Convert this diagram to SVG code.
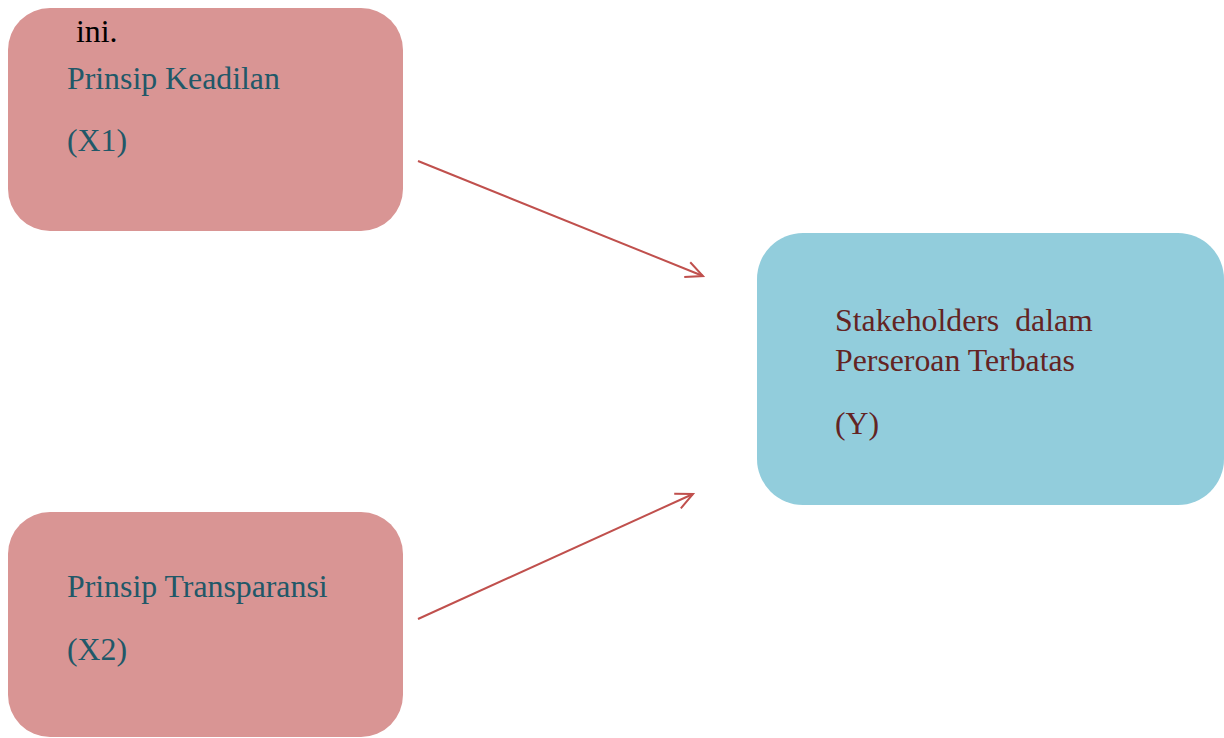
<svg xmlns="http://www.w3.org/2000/svg" width="1224" height="738" viewBox="0 0 1224 738">
<style>
.pink{fill:#D99594}
.blue{fill:#92CDDC}
.t{font-family:"Liberation Serif","Times New Roman",serif;font-size:31.8px}
.teal{fill:#215868}
.dred{fill:#632423}
.conn{stroke:#C0504D;stroke-width:2;fill:none}
</style>
<defs>
<marker id="ah" markerUnits="userSpaceOnUse" markerWidth="30" markerHeight="30" refX="20" refY="10" orient="auto">
<path d="M3,2 L20,10 L3,18" fill="none" stroke="#C0504D" stroke-width="2"/>
</marker>
</defs>
<rect width="1224" height="738" fill="#ffffff"/>
<g id="node-x1">
<rect class="pink" x="8" y="8" width="395" height="223" rx="42" ry="42"/>
<text class="t" x="76" y="42" fill="#000000">ini.</text>
<text class="t teal" x="67" y="89">Prinsip Keadilan</text>
<text class="t teal" x="67" y="151">(X1)</text>
</g>
<g id="node-x2">
<rect class="pink" x="8" y="512" width="395" height="225" rx="42" ry="42"/>
<text class="t teal" x="67" y="597">Prinsip Transparansi</text>
<text class="t teal" x="67" y="660">(X2)</text>
</g>
<g id="node-y">
<rect class="blue" x="757" y="233" width="467" height="272" rx="46" ry="46"/>
<text class="t dred" x="835" y="331" xml:space="preserve">Stakeholders  dalam</text>
<text class="t dred" x="835" y="371">Perseroan Terbatas</text>
<text class="t dred" x="835" y="434">(Y)</text>
</g>
<g id="connectors">
<line class="conn" x1="418" y1="161" x2="703" y2="276" marker-end="url(#ah)"/>
<line class="conn" x1="418" y1="619" x2="693" y2="494" marker-end="url(#ah)"/>
</g>
</svg>
